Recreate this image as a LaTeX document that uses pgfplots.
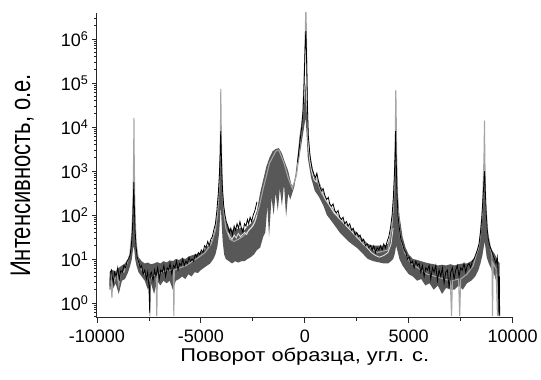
\documentclass[border=0pt]{standalone}
\usepackage{fontspec}
\setmainfont{Liberation Sans}
\usepackage{pgfplots}
\pgfplotsset{compat=1.18}
\usepgfplotslibrary{fillbetween}
\definecolor{band}{RGB}{88,88,88}
\definecolor{lgray}{RGB}{165,165,165}
\definecolor{wline}{RGB}{222,222,222}
\begin{document}
\begin{tikzpicture}
\begin{axis}[
 scale only axis, width=416bp, height=305bp,
 ymode=log, xmin=-10000, xmax=10000, ymin=0.46, ymax=3.9e6,
 axis lines=left, axis line style={-, line width=1pt, black!85},
 scaled x ticks=false,
 xtick={-10000,-5000,0,5000,10000}, xticklabels={-10000,-5000,0,5000,10000},
 minor xtick={-7500,-2500,2500,7500},
 ytick={1,10,100,1000,10000,100000,1000000},
 yticklabels={10\textsuperscript{0},10\textsuperscript{1},10\textsuperscript{2},10\textsuperscript{3},10\textsuperscript{4},10\textsuperscript{5},10\textsuperscript{6}},
 minor ytick={0.5,0.6,0.7,0.8,0.9,2,3,4,5,6,7,8,9,20,30,40,50,60,70,80,90,200,300,400,500,600,700,800,900,2000,3000,4000,5000,6000,7000,8000,9000,20000,30000,40000,50000,60000,70000,80000,90000,200000,300000,400000,500000,600000,700000,800000,900000,2000000,3000000},
 tick align=outside, major tick length=5bp, minor tick length=3bp,
 tick style={black!85, line width=0.8pt},
 ticklabel style={font=\fontsize{18bp}{20bp}\selectfont},
 xticklabel style={yshift=-4bp},
 xlabel={\scalebox{1.18}[1]{Поворот образца, угл. с.}},
 ylabel={\scalebox{1.1}[1.42]{Интенсивность, о.е.}},
 xlabel style={font=\fontsize{18.5bp}{22bp}\selectfont, at={(axis description cs:0.5,-0.1443)}, anchor=base},
 ylabel style={font=\fontsize{20bp}{22bp}\selectfont, at={(axis description cs:-0.18,0.467)}, anchor=center},
]
% light gray scan (underneath)
\addplot[lgray, line width=1.1bp] coordinates {
(-9375,2.5)(-9330,5.0)(-9280,1.3)(-9230,4.0)(-9150,3.2)(-9050,5.0)(-8950,2.5)(-8850,5.6)(-8700,5.0)(-8550,7.9)(-8420,12.6)(-8320,40)(-8260,300)(-8230,3000)(-8220,16000)(-8210,3000)(-8180,200)(-8120,25)(-8000,8)(-7850,5.6)(-7700,4.5)(-7550,4.0)(-7480,3.5)(-7455,0.5)(-7430,3.5)(-7300,4.0)(-7150,4.5)(-7120,0.5)(-7090,4.5)(-6900,5.0)(-6600,5.6)(-6320,5.6)(-6300,0.5)(-6280,5.6)(-6000,6.3)(-5700,7.1)(-5400,8.9)(-5100,11)(-4800,14)(-4500,22)(-4300,45)(-4200,100)(-4120,400)(-4070,3000)(-4050,20000)(-4040,73000)(-4030,20000)(-4000,2000)(-3950,300)(-3880,100)(-3800,50)(-3600,28)(-3400,25)(-3200,28)(-3000,32)(-2800,40)(-2600,50)(-2400,70)(-2200,150)(-2000,400)(-1700,1500)(-1400,2800)(-1250,3000)(-1000,1500)(-800,700)(-600,400)(-400,800)(-250,3000)(-100,20000)(0,400000)(30,2000000)(50,5000000)(70,2000000)(100,200000)(150,6000)(250,2000)(400,900)(600,600)(800,320)(1000,220)(1500,110)(2000,60)(2500,35)(3000,20)(3500,14)(4000,16)(4200,60)(4300,400)(4350,5000)(4370,30000)(4378,69000)(4390,30000)(4420,2000)(4480,150)(4600,30)(4800,14)(5100,8)(5500,6)(5900,4.5)(6300,4)(6700,3.5)(7000,3.2)(7060,0.5)(7100,3.2)(7400,3.5)(7450,0.5)(7500,3.5)(7800,4.5)(8100,7)(8400,22)(8550,150)(8620,2000)(8645,14000)(8660,2000)(8700,200)(8800,40)(9000,12)(9030,0.5)(9060,8)(9200,6)(9270,0.5)(9300,5)(9330,0.5)(9375,2.5)
};
% dark band: upper and lower envelopes
\addplot[name path=U, draw=none, forget plot] coordinates {
(-9375,5.0)(-9250,5.6)(-9100,5.2)(-8950,6.3)(-8800,7.1)(-8650,7.9)(-8500,10)(-8400,14)(-8320,32)(-8270,100)(-8230,630)(-8200,200)(-8160,50)(-8100,20)(-8000,11)(-7850,8.9)(-7700,7.9)(-7550,8.3)(-7400,7.6)(-7250,7.9)(-7100,8.5)(-6950,7.9)(-6800,8.9)(-6650,8.3)(-6500,9.3)(-6350,8.9)(-6200,10)(-6050,9.5)(-5900,10.5)(-5750,10)(-5600,11.2)(-5450,12)(-5300,12.6)(-5150,13.2)(-5000,14)(-4850,16)(-4700,19)(-4550,22)(-4400,32)(-4300,50)(-4200,100)(-4120,400)(-4070,3200)(-4040,14000)(-4000,2000)(-3950,400)(-3880,126)(-3800,71)(-3650,50)(-3500,45)(-3350,50)(-3200,48)(-3050,52)(-2900,45)(-2750,56)(-2600,63)(-2450,79)(-2300,126)(-2150,316)(-2000,630)(-1850,1260)(-1700,2000)(-1550,2800)(-1400,3160)(-1250,3300)(-1100,2500)(-1000,1800)(-800,1000)(-650,500)(-550,450)(-450,800)(-350,2000)(-250,6300)(-120,16000)(-40,28000)(30,100000)(80,32000)(144,5000)(300,1600)(480,720)(700,560)(900,316)(1060,200)(1300,130)(1680,79)(2100,56)(2500,40)(2800,28)(3030,22)(3300,20)(3600,20)(3800,20)(4000,22)(4150,40)(4250,100)(4320,630)(4360,3000)(4390,3000)(4450,400)(4550,100)(4700,32)(4850,18)(5000,12.6)(5200,10)(5400,9.5)(5600,8.9)(5800,8.3)(6000,7.9)(6200,7.6)(6400,7.1)(6600,7.4)(6800,7.1)(7000,7.6)(7200,7.1)(7400,7.6)(7600,7.9)(7800,7.9)(8000,8.9)(8200,11)(8350,16)(8450,32)(8550,100)(8620,630)(8650,800)(8680,316)(8750,63)(8850,25)(9000,16)(9150,12.6)(9300,8.9)(9375,7.9)
};
\addplot[name path=L, draw=none, forget plot] coordinates {
(-9375,2.5)(-9250,2.0)(-9100,2.8)(-8950,1.6)(-8800,3.2)(-8650,3.5)(-8500,5.0)(-8400,7.1)(-8320,10)(-8270,16)(-8230,20)(-8200,16)(-8160,10)(-8100,7.1)(-8000,5.0)(-7850,4.0)(-7700,3.2)(-7550,2.0)(-7400,2.8)(-7250,1.6)(-7100,3.2)(-6950,2.5)(-6800,3.2)(-6650,2.8)(-6500,3.2)(-6350,2.0)(-6200,3.2)(-6050,3.5)(-5900,4.0)(-5750,3.5)(-5600,4.5)(-5450,4.0)(-5300,5.0)(-5150,4.8)(-5000,5.6)(-4850,6.3)(-4700,7.1)(-4550,7.9)(-4400,10)(-4300,12.6)(-4200,20)(-4120,40)(-4070,100)(-4040,160)(-4000,63)(-3950,25)(-3880,12.6)(-3800,10)(-3650,8.9)(-3500,7.9)(-3350,8.9)(-3200,8.3)(-3050,8.9)(-2900,8.9)(-2750,10)(-2600,11)(-2450,12.6)(-2300,16)(-2150,18)(-2000,32)(-1900,40)(-1800,160)(-1720,32)(-1600,250)(-1500,100)(-1400,316)(-1300,126)(-1200,400)(-1100,160)(-1000,500)(-900,90)(-800,316)(-700,224)(-600,316)(-500,450)(-400,900)(-300,1600)(-200,3200)(-100,6300)(0,12600)(40,16000)(80,8000)(144,2000)(300,710)(480,355)(700,250)(900,160)(1060,100)(1300,71)(1680,40)(2100,25)(2500,18)(2800,13)(3030,10)(3300,8.9)(3600,8.3)(3800,7.9)(4000,7.9)(4150,8.9)(4250,10)(4320,12.6)(4360,16)(4390,20)(4450,16)(4550,10)(4700,7.1)(4850,5.6)(5000,4.5)(5200,4.0)(5400,3.2)(5600,3.5)(5800,2.5)(6000,2.8)(6200,2.0)(6400,2.5)(6600,1.6)(6800,2.2)(7000,2.0)(7200,2.0)(7400,2.5)(7600,2.0)(7800,2.8)(8000,3.2)(8200,4.0)(8350,5.6)(8450,7.9)(8550,12.6)(8620,20)(8650,25)(8680,20)(8750,11)(8850,7.9)(9000,5.6)(9150,4.0)(9300,2.0)(9375,1.6)
};
\addplot[band] fill between[of=U and L];
% light streaks of a third scan
\addplot[wline, line width=0.9bp] coordinates {
(-3700,40)(-3600,32)(-3500,28)(-3400,35)(-3300,30)(-3200,38)(-3100,32)(-3000,36)(-2900,40)(-2800,36)(-2700,45)(-2600,50)(-2500,56)(-2400,71)(-2300,100)
};
\addplot[wline, line width=0.9bp] coordinates {
(150,5000)(250,1600)(350,900)(450,630)(550,560)(620,700)(700,500)(850,320)(1000,224)(1200,160)(1400,112)(1600,89)(1800,71)(2000,56)(2200,45)(2400,35)(2600,28)(2800,22)(3000,18)(3200,14)(3400,12)(3600,11)(3800,12)(4000,14)(4150,22)(4250,50)
};
% black scan
\addplot[black, line width=0.8bp] coordinates {
(-9375,2.0)(-9360,5.0)(-9300,5.6)(-9220,2.8)(-9150,5.0)(-9080,4.0)(-9000,6.3)(-8920,3.5)(-8850,5.6)(-8780,5.0)(-8700,7.1)(-8620,6.3)(-8550,8.9)(-8480,10)(-8400,12.6)(-8340,22)(-8290,50)(-8250,200)(-8225,560)(-8200,160)(-8170,50)(-8120,20)(-8060,11)(-8000,8.9)(-7920,6.3)(-7850,7.1)(-7780,4.5)(-7700,5.6)(-7620,3.5)(-7560,5.0)(-7500,2.5)(-7460,0.6)(-7440,4.5)(-7380,5.0)(-7300,3.2)(-7230,5.6)(-7160,4.0)(-7080,6.3)(-7000,3.5)(-6930,5.6)(-6860,5.0)(-6780,7.1)(-6700,4.0)(-6620,6.3)(-6550,5.6)(-6480,7.9)(-6400,4.5)(-6320,7.1)(-6250,6.3)(-6170,8.9)(-6100,5.6)(-6020,7.9)(-5950,7.1)(-5870,10)(-5800,7.1)(-5720,8.9)(-5650,7.9)(-5570,11)(-5500,8.9)(-5420,10)(-5350,8.9)(-5270,12.6)(-5200,11)(-5120,14)(-5050,12.6)(-4980,16)(-4900,14)(-4820,20)(-4750,18)(-4670,25)(-4600,20)(-4520,28)(-4450,32)(-4380,45)(-4300,63)(-4230,126)(-4160,316)(-4110,800)(-4070,2500)(-4045,8000)(-4020,3200)(-3990,800)(-3950,316)(-3900,160)(-3840,100)(-3780,71)(-3700,56)(-3630,40)(-3560,50)(-3480,35)(-3400,56)(-3330,45)(-3260,63)(-3190,50)(-3120,71)(-3050,50)(-2980,40)(-2900,63)(-2830,56)(-2760,79)(-2700,63)(-2630,89)(-2560,71)(-2480,100)(-2400,126)(-2300,200)
};
\addplot[black, line width=0.8bp] coordinates {
(-350,1580)(-250,4000)(-150,10000)(-80,25000)(-30,100000)(0,400000)(30,1000000)(50,1500000)(70,800000)(100,150000)(130,25000)(170,6300)(250,2240)(350,1120)(450,800)(520,710)(580,890)(640,630)(720,450)(800,355)(880,400)(960,282)(1050,224)(1130,251)(1200,178)(1280,158)(1360,178)(1440,126)(1520,112)(1600,126)(1680,89)(1760,79)(1840,89)(1920,63)(2000,71)(2080,56)(2160,63)(2250,45)(2330,50)(2420,35)(2500,40)(2580,32)(2660,35)(2750,25)(2830,28)(2920,20)(3000,22)(3080,18)(3160,20)(3240,16)(3320,20)(3400,14)(3480,18)(3560,16)(3640,20)(3720,16)(3800,22)(3880,18)(3960,25)(4040,32)(4120,50)(4200,100)(4260,250)(4310,800)(4345,2500)(4370,8000)(4395,2000)(4430,400)(4480,100)(4550,50)(4620,28)(4700,22)(4780,16)(4860,14)(4940,10)(5020,11)(5100,7.9)(5180,8.9)(5260,6.3)(5340,8.9)(5420,7.1)(5500,7.9)(5580,5.0)(5660,7.1)(5740,4.0)(5820,6.3)(5900,5.6)(5980,7.1)(6060,3.5)(6140,6.3)(6220,5.0)(6300,7.1)(6380,3.2)(6460,5.6)(6540,4.0)(6620,6.3)(6700,2.8)(6780,5.0)(6860,5.6)(6940,2.2)(7020,5.0)(7100,6.3)(7180,3.5)(7260,5.6)(7340,7.1)(7420,4.0)(7500,6.3)(7580,5.6)(7660,7.9)(7740,5.0)(7820,7.1)(7900,7.9)(7980,6.3)(8060,8.9)(8140,10)(8220,12.6)(8300,16)(8380,22)(8450,40)(8510,79)(8560,200)(8600,400)(8630,800)(8655,1000)(8680,400)(8720,126)(8770,50)(8830,28)(8900,20)(8970,16)(9050,12.6)(9120,10)(9200,7.9)(9260,11)(9300,5.0)(9340,0.55)(9360,4.0)(9375,0.5)
};
\end{axis}
\path (current axis.south west) ++(-97bp,-62bp) rectangle ++(541bp,380bp);
\end{tikzpicture}
\end{document}
